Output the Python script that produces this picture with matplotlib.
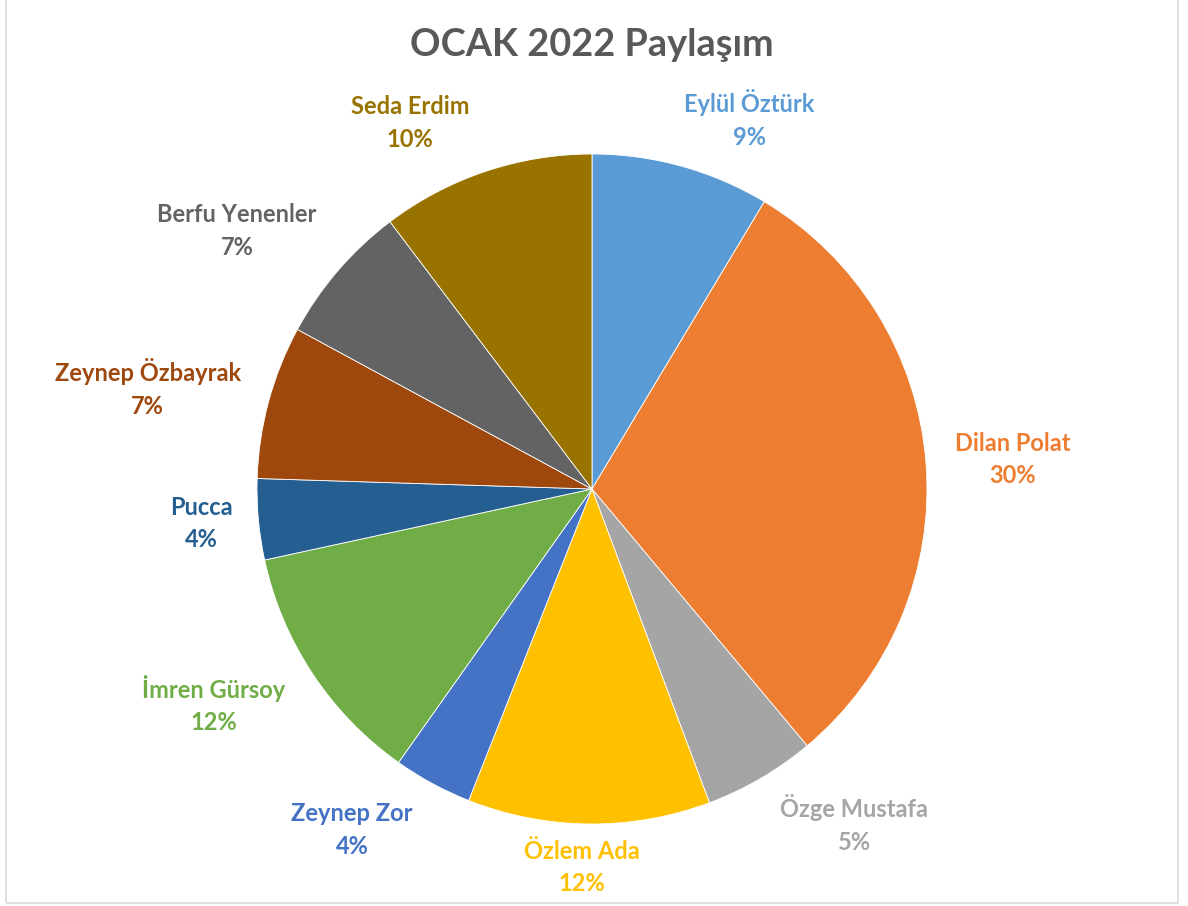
import matplotlib as mpl
mpl.use('Agg')
import matplotlib.pyplot as plt
from matplotlib.patches import Rectangle
import numpy as np

plt.rcParams['font.family'] = ['Lato', 'DejaVu Sans']

# slice data, clockwise from the top
names = ['Eylül Öztürk', 'Dilan Polat', 'Özge Mustafa', 'Özlem Ada', 'Zeynep Zor',
         'İmren Gürsoy', 'Pucca', 'Zeynep Özbayrak', 'Berfu Yenenler', 'Seda Erdim']
shares = [8.6, 30.3, 5.4, 11.7, 3.8, 11.8, 3.9, 7.4, 6.8, 10.3]
colors = ['#5B9BD5', '#ED7D31', '#A5A5A5', '#FFC000', '#4472C4',
          '#70AD47', '#255E91', '#9E480E', '#636363', '#997300']

# label placement: angle offset from slice middle (deg, clockwise) and radial distance
label_shift = [7.6, 0.5, -7.8, 1.0, 6.7, 3.8, 0.2, -2.3, -4.7, -7.9]
label_dist = [1.20, 1.26, 1.27, 1.13, 1.245, 1.30, 1.17, 1.36, 1.31, 1.22]

fig = plt.figure(figsize=(11.88, 9.06), dpi=100)
ax = fig.add_axes([257 / 1188, 82 / 906, 670 / 1188, 670 / 906])

wedges, _ = ax.pie(shares, colors=colors, startangle=90, counterclock=False,
                   radius=1, wedgeprops=dict(edgecolor='white', linewidth=0.6))
ax.set_xlim(-1, 1)
ax.set_ylim(-1, 1)
ax.set_aspect('equal')
ax.axis('off')

total = sum(shares)
for w, name, val, col, sh, d in zip(wedges, names, shares, colors, label_shift, label_dist):
    mid = 0.5 * (w.theta1 + w.theta2) - sh  # matplotlib angles run counter-clockwise
    a = np.deg2rad(mid)
    ax.text(d * np.cos(a), d * np.sin(a), f'{name}\n{val / total * 100:.0f}%',
            ha='center', va='center', color=col, fontsize=17, fontweight='bold',
            linespacing=1.5, clip_on=False)

fig.text(592 / 1188, 1 - 45 / 906, 'OCAK 2022 Paylaşım', ha='center', va='center',
         fontsize=27.3, fontweight='bold', color='#595959')

fig.patches.append(Rectangle((6 / 1188, 3 / 906), 1172 / 1188, 1.0, transform=fig.transFigure,
                             fill=False, edgecolor='#D9D9D9', linewidth=1.2))

fig.savefig('out.png', dpi=100)
